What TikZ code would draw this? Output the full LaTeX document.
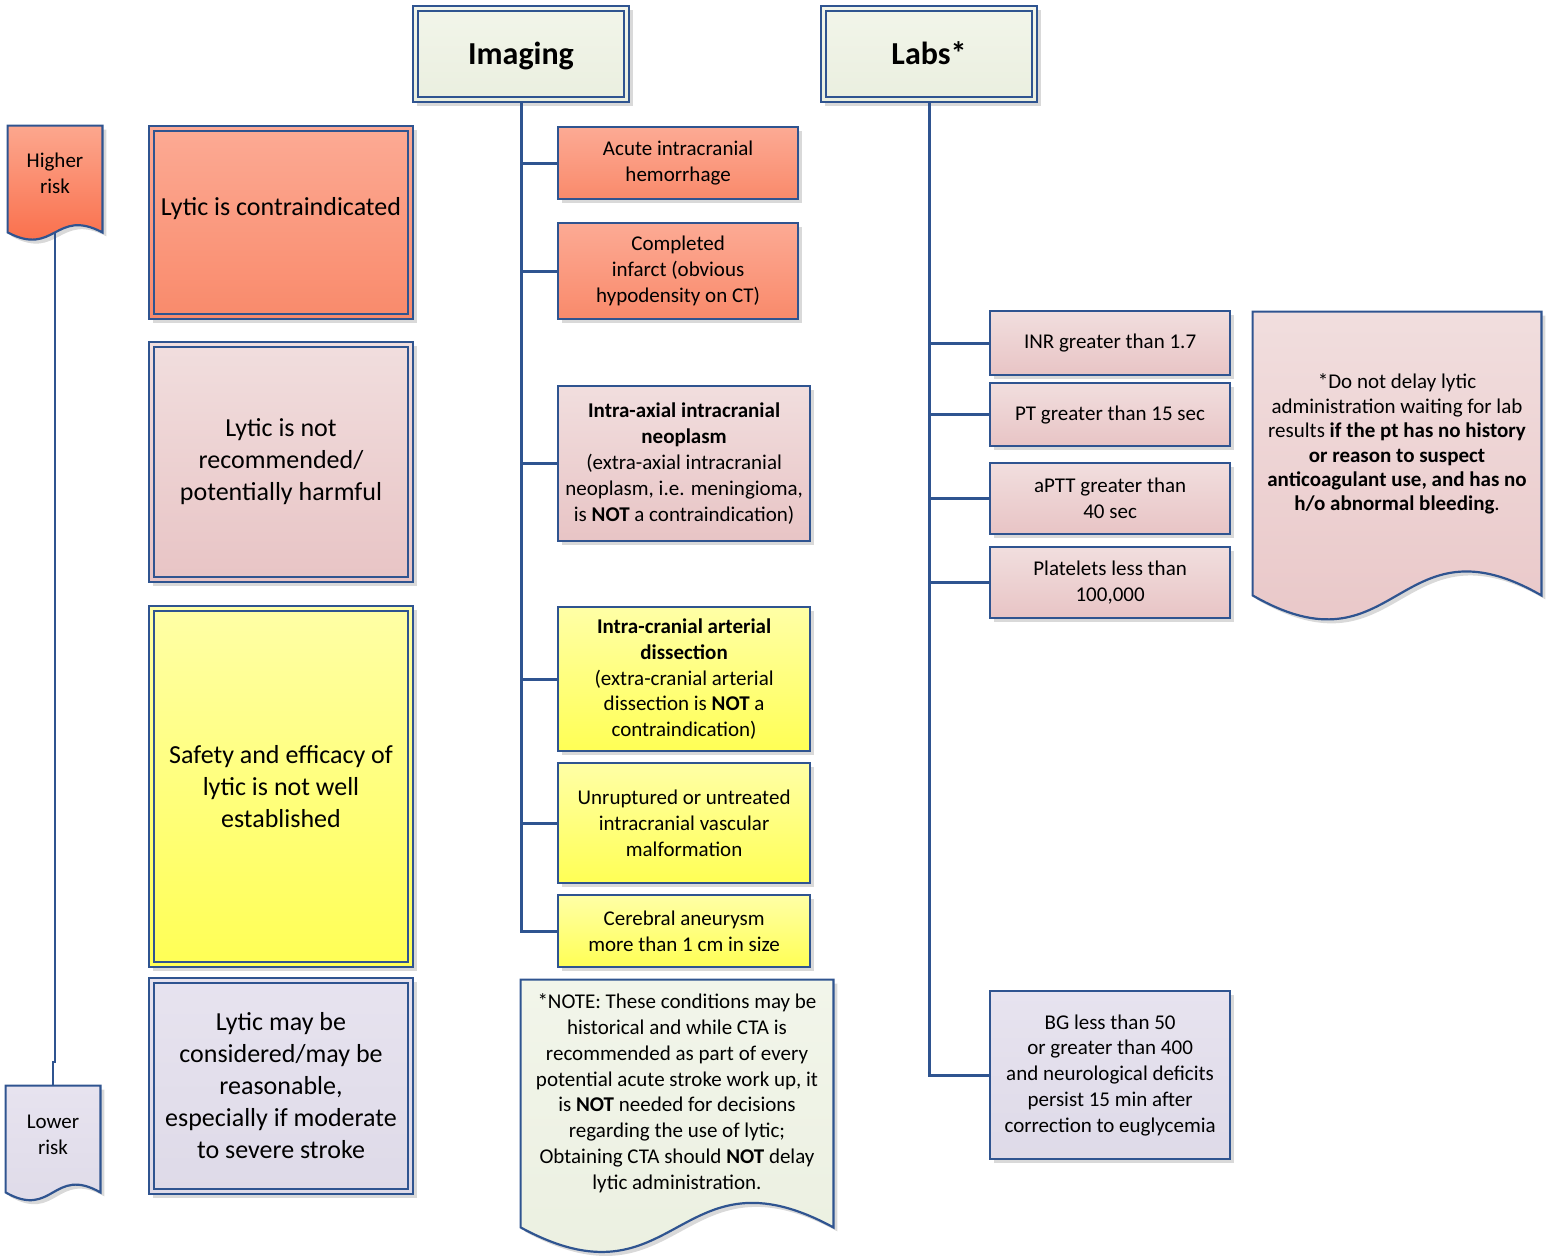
\documentclass[tikz,border=0pt]{standalone}
\usepackage{fontspec}
\setmainfont{Carlito}
\usepackage{xcolor}
\usepackage{tikz}
\usetikzlibrary{positioning, calc, shadows, backgrounds}

\definecolor{edge}{HTML}{2F5490}
\definecolor{riskT}{HTML}{FCA78E}
\definecolor{riskB}{HTML}{F96843}
\definecolor{hotT}{HTML}{FCAA94}
\definecolor{hotB}{HTML}{F98A6B}
\definecolor{roseT}{HTML}{F1DEDE}
\definecolor{roseB}{HTML}{E8C4C5}
\definecolor{lemonT}{HTML}{FFFFA6}
\definecolor{lemonB}{HTML}{FFFF55}
\definecolor{lilacT}{HTML}{E7E3EF}
\definecolor{lilacB}{HTML}{DEDAE8}
\definecolor{sageT}{HTML}{F2F5EA}
\definecolor{sageB}{HTML}{EAEFDF}

% wavy-bottom document outline behind a named node
\newcommand{\wavedoc}[4]{%
  \begin{scope}[on background layer]
    \path[draw=edge, line width=1.1pt, top color=#3, bottom color=#4,
          drop shadow={shadow xshift=2pt, shadow yshift=-2pt, opacity=.3}]
      (#1.north west) -- (#1.north east) -- (#1.south east)
      .. controls ($(#1.south)+(0,-#2)$) and ($(#1.south)+(0,#2)$) .. (#1.south west) -- cycle;
  \end{scope}}

\begin{document}
\begin{tikzpicture}[
    x=0.5pt, y=-0.5pt,
    smalltext/.style={font=\fontsize{10.5}{12.9}\selectfont},
    bigtext/.style={font=\fontsize{13}{16}\selectfont},
    titletext/.style={font=\fontsize{16}{19}\selectfont\bfseries, text height=12pt, text depth=2pt},
    shadowed/.style={drop shadow={shadow xshift=2pt, shadow yshift=-2pt, opacity=.3}},
    cell/.style={draw=edge, line width=1.1pt, align=center, inner sep=2pt, shadowed, smalltext},
    bigcell/.style={cell, line width=1.3pt, bigtext,
        path picture={\draw[edge, line width=.9pt]
            ([shift={(2.6pt,-2.6pt)}]path picture bounding box.north west) rectangle
            ([shift={(-2.6pt,2.6pt)}]path picture bounding box.south east);}},
    docnode/.style={align=center, inner sep=2pt, smalltext},
    hot/.style={top color=hotT, bottom color=hotB},
    rose/.style={top color=roseT, bottom color=roseB},
    lemon/.style={top color=lemonT, bottom color=lemonB},
    lilac/.style={top color=lilacT, bottom color=lilacB},
    sage/.style={top color=sageT, bottom color=sageB},
    link/.style={draw=edge, line width=1.5pt}
]
    \useasboundingbox (0,0) rectangle (1553,1255);

    % headers
    \node[bigcell, sage, titletext, minimum width=108pt, minimum height=48pt] (imaging) at (521,54) {Imaging};
    \node[bigcell, sage, titletext, minimum width=108pt, minimum height=48pt, right=94.7pt of imaging] (labs) {Labs*};

    % risk scale
    \node[docnode, minimum width=47pt, minimum height=53pt, text depth=6pt] (higher) at (55,179) {Higher\\risk};
    \wavedoc{higher}{25}{riskT}{riskB}
    \node[docnode, minimum width=47pt, minimum height=53pt, text depth=4.5pt] (lower) at (53,1139) {Lower\\risk};
    \wavedoc{lower}{27}{lilacT}{lilacB}
    \draw[edge, line width=1pt] (higher.south) -- ++(0,830) -| (lower.north);

    % recommendation column
    \node[bigcell, hot, minimum width=132pt, minimum height=96.5pt, text depth=16pt] (contra) at (281,222.5) {Lytic is contraindicated};
    \node[bigcell, rose, minimum width=132pt, minimum height=120pt, below=10.2pt of contra] (notrec) {Lytic is not\\recommended/\\potentially harmful};
    \node[bigcell, lemon, minimum width=132pt, minimum height=180.5pt, below=10.7pt of notrec] (safety) {Safety and efficacy of\\lytic is not well\\established};
    \node[bigcell, lilac, minimum width=132pt, minimum height=108pt, below=4.2pt of safety] (maybe) {Lytic may be\\considered/may be\\reasonable,\\especially if moderate\\to severe stroke};

    % imaging findings
    \node[cell, hot, minimum width=120pt, minimum height=36pt, anchor=north west] (acute) at (557,126) {Acute intracranial\\hemorrhage};
    \node[cell, hot, minimum width=120pt, minimum height=48pt, anchor=north west] (infarct) at (557,222) {Completed\\infarct (obvious\\hypodensity on CT)};
    \node[cell, rose, minimum width=126pt, minimum height=77.5pt, anchor=north west] (neoplasm) at (557,385) {\textbf{Intra-axial intracranial}\\\textbf{neoplasm}\\(extra-axial intracranial\\neoplasm, i.e. meningioma,\\is \textbf{NOT} a contraindication)};
    \node[cell, lemon, minimum width=126pt, minimum height=72pt, anchor=north west] (dissect) at (557,606) {\textbf{Intra-cranial arterial}\\\textbf{dissection}\\(extra-cranial arterial\\dissection is \textbf{NOT} a\\contraindication)};
    \node[cell, lemon, minimum width=126pt, minimum height=60pt, anchor=north west] (malform) at (557,762) {Unruptured or untreated\\intracranial vascular\\malformation};
    \node[cell, lemon, minimum width=126pt, minimum height=36pt, anchor=north west] (aneur) at (557,894) {Cerebral aneurysm\\more than 1 cm in size};
    \node[docnode, minimum width=156pt, minimum height=123.5pt, text depth=12pt] (ctanote) at (677,1103.5) {*NOTE: These conditions may be\\historical and while CTA is\\recommended as part of every\\potential acute stroke work up, it\\is \textbf{NOT} needed for decisions\\regarding the use of lytic;\\Obtaining CTA should \textbf{NOT} delay\\lytic administration.};
    \wavedoc{ctanote}{85}{sageT}{sageB}

    % lab values
    \node[cell, rose, minimum width=120pt, minimum height=32pt, anchor=north west] (inr) at (989,310) {INR greater than 1.7};
    \node[cell, rose, minimum width=120pt, minimum height=31.5pt, anchor=north west] (ptime) at (989,382) {PT greater than 15 sec};
    \node[cell, rose, minimum width=120pt, minimum height=35.5pt, anchor=north west] (aptt) at (989,462) {aPTT greater than\\40 sec};
    \node[cell, rose, minimum width=120pt, minimum height=35.5pt, anchor=north west] (plt) at (989,546) {Platelets less than\\100,000};
    \node[cell, lilac, minimum width=120pt, minimum height=84pt, anchor=north west] (bg) at (989,990) {BG less than 50\\or greater than 400\\and neurological deficits\\persist 15 min after\\correction to euglycemia};
    \node[docnode, minimum width=144pt, minimum height=141.5pt, text depth=11pt, font=\fontsize{10.5}{12.2}\selectfont] (labnote) at (1397,453.5) {*Do not delay lytic\\administration waiting for lab\\results \textbf{if the pt has no history}\\\textbf{or reason to suspect}\\\textbf{anticoagulant use, and has no}\\\textbf{h/o abnormal bleeding}.};
    \wavedoc{labnote}{83}{roseT}{roseB}

    % connectors
    \draw[link] (imaging.south) |- (acute.west);
    \draw[link] (imaging.south) |- (infarct.west);
    \draw[link] (imaging.south) |- (neoplasm.west);
    \draw[link] (imaging.south) |- (dissect.west);
    \draw[link] (imaging.south) |- (malform.west);
    \draw[link] (imaging.south) |- (aneur.west);
    \draw[link] (labs.south) |- (inr.west);
    \draw[link] (labs.south) |- (ptime.west);
    \draw[link] (labs.south) |- (aptt.west);
    \draw[link] (labs.south) |- (plt.west);
    \draw[link] (labs.south) |- (bg.west);
\end{tikzpicture}
\end{document}
